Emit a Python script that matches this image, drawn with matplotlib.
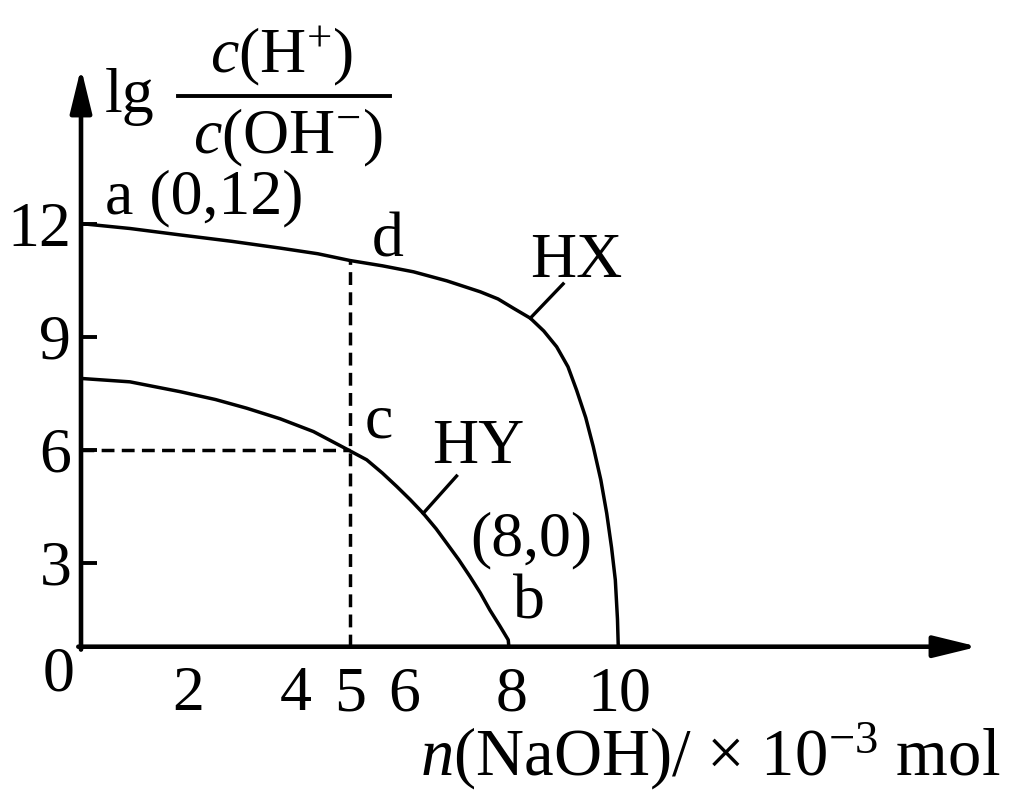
import matplotlib.pyplot as plt

plt.rcParams['font.family'] = ['Liberation Serif', 'DejaVu Serif']
plt.rcParams['mathtext.fontset'] = 'custom'
plt.rcParams['mathtext.rm'] = 'Liberation Serif'
plt.rcParams['mathtext.it'] = 'Liberation Serif:italic'

# curve HX: lg(c(H+)/c(OH-)) vs n(NaOH) / 1e-3 mol
hx_x = [0, 0.91, 1.84, 2.8, 3.7, 4.4, 5.0, 5.6, 6.18, 6.8, 7.42, 7.75, 8.04, 8.35,
        8.6, 8.84, 9.05, 9.21, 9.38, 9.52, 9.66, 9.77, 9.86, 9.93, 9.97, 10]
hx_y = [12, 11.87, 11.70, 11.53, 11.35, 11.2, 11.02, 10.88, 10.72, 10.48, 10.19, 10.0, 9.75, 9.49,
        9.15, 8.73, 8.2, 7.58, 6.85, 6.08, 5.2, 4.31, 3.4, 2.54, 1.5, 0]

# curve HY
hy_x = [0, 0.91, 1.84, 2.5, 3.08, 3.7, 4.32, 4.97, 5.31, 5.6, 5.87, 6.12, 6.36, 6.6, 6.8,
        7.02, 7.23, 7.42, 7.6, 7.78, 7.94, 8]
hy_y = [7.89, 7.80, 7.54, 7.33, 7.10, 6.82, 6.48, 5.99, 5.73, 5.38, 5.02, 4.67, 4.31, 3.9, 3.51,
        3.08, 2.63, 2.2, 1.74, 1.33, 0.95, 0]

point_c = (5, 6)
point_d = (5, 11.02)

xtick_pos = [2, 4, 5, 6, 8, 10]
xtick_marks = [2, 4, 6, 8, 10]
ytick_pos = [3, 6, 9, 12]

labels = [('a (0,12)', 0.45, 12.28), ('d', 5.41, 11.14), ('HX', 8.35, 10.58),
          ('c', 5.28, 6.33), ('HY', 6.52, 5.65), ('(8,0)', 7.23, 3.2), ('b', 8.03, 1.53)]
leaders = [((8.96, 8.35), (10.4, 9.49)), ((6.98, 6.36), (5.3, 4.31))]

W, H = 1011, 793
fig = plt.figure(figsize=(W / 100, H / 100), dpi=100)
x0, x1, ytop, ybot = 81, 978, 68, 646.7
ax = fig.add_axes([x0 / W, 1 - ybot / H, (x1 - x0) / W, (ybot - ytop) / H])
ax.set_xlim(0, 16.67)
ax.set_ylim(0.77, 16.13)
for s in ax.spines.values():
    s.set_visible(False)

fs = 46
lw = 2.5
dash = (0, (3.7, 2.1))

ax.plot(hx_x, hx_y, color='black', lw=lw)
ax.plot(hy_x, hy_y, color='black', lw=lw)
ax.plot([point_d[0], point_d[0]], [0.77, point_d[1]], color='black', lw=2.5, ls=dash)
ax.plot([0, point_c[0]], [point_c[1], point_c[1]], color='black', lw=2.5, ls=dash)

for xs, ys in leaders:
    ax.plot(xs, ys, color='black', lw=2.4)

for txt, x, y in labels:
    ax.text(x, y, txt, fontsize=fs, va='baseline', ha='left')

# axes with arrows
arrow = dict(arrowstyle='-|>,head_length=0.9,head_width=0.22', lw=3.3, color='black',
             mutation_scale=30, shrinkA=0, shrinkB=0)
ax.annotate('', xy=(1, 0), xytext=(-0.003, 0), xycoords='axes fraction', arrowprops=arrow)
ax.annotate('', xy=(0, 1), xytext=(0, -0.005), xycoords='axes fraction', arrowprops=arrow)

ax.set_xticks(xtick_pos)
ax.set_xticklabels([str(v) for v in xtick_pos])
ax.set_xticks(xtick_marks, minor=True)
ax.tick_params(axis='x', which='major', length=0, pad=14, labelsize=fs)
ax.tick_params(axis='x', which='minor', direction='in', length=9.5, width=2.8)
ax.set_yticks(ytick_pos)
ax.set_yticklabels([str(v) for v in ytick_pos])
ax.tick_params(axis='y', which='major', direction='in', length=11.5, width=2.8, pad=7, labelsize=fs)
ax.text(-0.12, 0, '0', fontsize=fs, ha='right', va='center', clip_on=False)

# axis titles
fig.text(420 / W, 1 - 776 / H, r'$n$(NaOH)/ × 10$^{-3}$ mol', fontsize=48, ha='left', va='baseline')
fig.text(105 / W, 1 - 112 / H, 'lg', fontsize=fs, ha='left', va='baseline')
fig.text(282 / W, 1 - 72 / H, r'$c$(H$^{+}$)', fontsize=fs, ha='center', va='baseline')
fig.text(288 / W, 1 - 153 / H, r'$c$(OH$^{-}$)', fontsize=fs, ha='center', va='baseline')
fig.add_artist(plt.Line2D([178 / W, 390 / W], [1 - 96 / H, 1 - 96 / H], color='black', lw=2.8))

fig.savefig('out.png', dpi=100)
